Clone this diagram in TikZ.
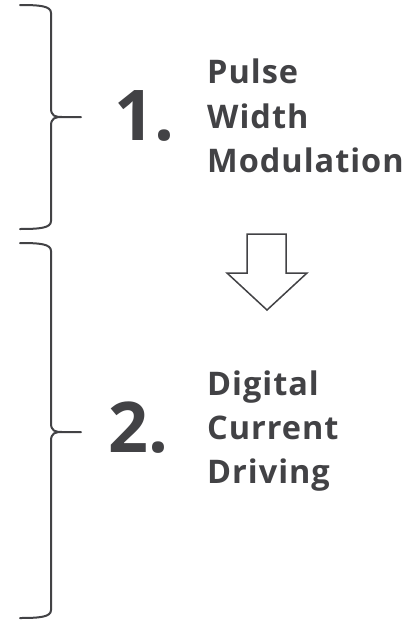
\documentclass[tikz,border=0pt]{standalone}
\usepackage{fontspec}
\setmainfont{Open Sans}[LetterSpace=3]
\newfontfamily\numfont{Open Sans}
\definecolor{ink}{RGB}{66,66,69}
\tikzset{
  brace/.style={draw=ink, line width=2pt, line cap=round, line join=round},
  label/.style={anchor=base west, inner sep=0pt, text=ink, font=\fontsize{32.5}{32.5}\selectfont\bfseries},
  numeral/.style={anchor=base west, inner sep=0pt, text=ink, font=\numfont\fontsize{70}{70}\selectfont\bfseries},
  hollow/.style={draw=ink, line width=1.5pt, fill=white, line join=miter}
}
\begin{document}
\begin{tikzpicture}[x=1pt, y=-1pt]
  \useasboundingbox (0,0) rectangle (417,624);
  % first brace
  \draw[brace] (20,5) .. controls (40,5) and (51,6) .. (51,13)
    -- (51,108) .. controls (51,116) and (55,117) .. (62,117) -- (81,117)
    (62,117) .. controls (55,117) and (51,118) .. (51,126)
    -- (51,221) .. controls (51,228) and (40,229) .. (20,229);
  \coordinate (b1) at (81,117);
  % second brace
  \draw[brace] (20,243) .. controls (40,243) and (51,244) .. (51,251)
    -- (51,423) .. controls (51,431) and (55,432) .. (62,432) -- (81,432)
    (62,432) .. controls (55,432) and (51,433) .. (51,441)
    -- (51,610) .. controls (51,617) and (40,618) .. (20,618);
  \coordinate (b2) at (81,432);
  % step numbers
  \node[numeral] (n1) at (114,140) {1.};
  \node[numeral] (n2) at (108,452) {2.};
  % step titles
  \node[label] (t1a) at (207,83) {Pulse};
  \node[label] (t1b) at (207,128) {Width};
  \node[label] (t1c) at (207,172) {Modulation};
  \node[label] (t2a) at (207,395) {Digital};
  \node[label] (t2b) at (207,439) {Current};
  \node[label] (t2c) at (207,483) {Driving};
  % hollow arrow between the steps
  \draw[hollow] (247,234) -- (286,234) -- (286,273) -- (307,273)
    -- (267,310) -- (227,273) -- (247,273) -- cycle;
\end{tikzpicture}
\end{document}
